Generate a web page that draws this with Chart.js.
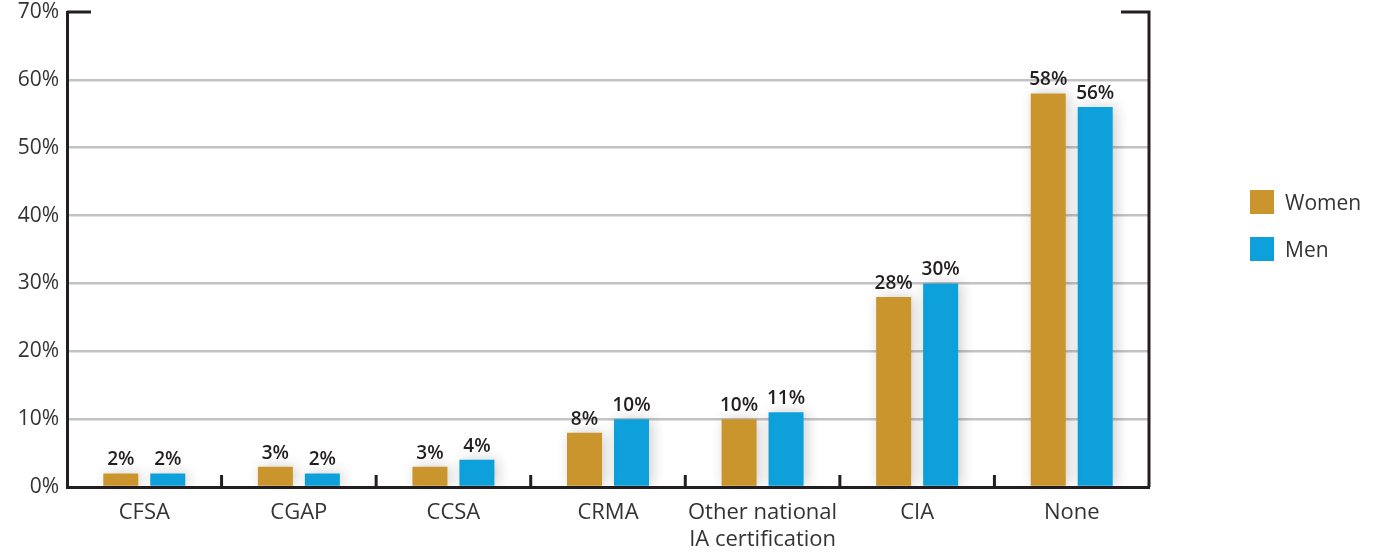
<!DOCTYPE html>
<html>
<head>
  <title>Certifications by gender</title>
  <script src="https://cdn.jsdelivr.net/npm/chart.js"></script>
  <style>
    body { margin: 0; background: #fff; font-family: "Open Sans", sans-serif; }
    #wrap { position: relative; width: 1380px; height: 552px; }
    #legend { position: absolute; left: 1250px; top: 190px; }
    .item { display: flex; align-items: center; height: 24px; margin-bottom: 23px; font-size: 21px; color: #333; }
    .swatch { width: 24px; height: 24px; margin-right: 11px; }
  </style>
</head>
<body>
  <div id="wrap">
    <canvas id="chart" width="1380" height="552"></canvas>
    <div id="legend"></div>
  </div>
  <script>
    const categories = ["CFSA", "CGAP", "CCSA", "CRMA", ["Other national", "IA certification"], "CIA", "None"];
    const women = [2, 3, 3, 8, 10, 28, 58];
    const men = [2, 2, 4, 10, 11, 30, 56];
    const seriesNames = ["Women", "Men"];
    const seriesColors = ["#c9952c", "#0da0da"];

    const ink = "#231f20";

    // legend (html, built from the series arrays)
    const legendEl = document.getElementById("legend");
    seriesNames.forEach((name, i) => {
      const row = document.createElement("div");
      row.className = "item";
      row.innerHTML = `<span class="swatch" style="background:${seriesColors[i]}"></span>${name}`;
      legendEl.appendChild(row);
    });

    // soft shadow behind the bars
    const barShadow = {
      id: "barShadow",
      beforeDatasetsDraw(chart) {
        const ctx = chart.ctx;
        ctx.save();
        ctx.shadowColor = "rgba(0,0,0,0.2)";
        ctx.shadowBlur = 14;
        ctx.shadowOffsetX = 3;
        ctx.shadowOffsetY = 0;
      },
      afterDatasetsDraw(chart) {
        chart.ctx.restore();
      }
    };

    // value labels, right axis, caps and category ticks
    const extras = {
      id: "extras",
      afterDraw(chart) {
        const ctx = chart.ctx;
        const area = chart.chartArea;
        const x = chart.scales.x;

        ctx.save();
        ctx.font = "600 19px 'Open Sans', sans-serif";
        ctx.fillStyle = ink;
        ctx.textAlign = "center";
        ctx.textBaseline = "bottom";
        chart.data.datasets.forEach((ds, di) => {
          chart.getDatasetMeta(di).data.forEach((bar, i) => {
            ctx.fillText(ds.data[i] + "%", bar.x, bar.y - 4);
          });
        });

        ctx.strokeStyle = ink;
        ctx.lineWidth = 3;
        ctx.lineCap = "butt";
        ctx.beginPath();
        // top caps
        ctx.moveTo(area.left, area.top);
        ctx.lineTo(area.left + 24, area.top);
        ctx.moveTo(area.right - 28, area.top);
        ctx.lineTo(area.right, area.top);
        // right axis
        ctx.moveTo(area.right, area.top - 1.5);
        ctx.lineTo(area.right, area.bottom);
        // category separators
        for (let i = 0; i < categories.length - 1; i++) {
          const px = (x.getPixelForValue(i) + x.getPixelForValue(i + 1)) / 2;
          ctx.moveTo(px, area.bottom);
          ctx.lineTo(px, area.bottom - 12);
        }
        ctx.stroke();
        ctx.restore();
      }
    };

    new Chart(document.getElementById("chart"), {
      type: "bar",
      data: {
        labels: categories,
        datasets: seriesNames.map((name, i) => ({
          label: name,
          data: i === 0 ? women : men,
          backgroundColor: seriesColors[i],
          categoryPercentage: 0.608,
          barPercentage: 0.745
        }))
      },
      options: {
        responsive: false,
        animation: false,
        layout: { padding: { top: 12, right: 231, left: 0, bottom: 0 } },
        plugins: {
          legend: { display: false },
          tooltip: { enabled: false }
        },
        scales: {
          x: {
            grid: { display: false, drawTicks: false },
            border: { display: true, color: ink, width: 3 },
            ticks: {
              color: "#333",
              padding: 13,
              maxRotation: 0,
              autoSkip: false,
              font: { family: "'Open Sans', sans-serif", size: 22, lineHeight: 1.2 }
            },
            afterFit(scale) { scale.height = 65; }
          },
          y: {
            min: 0,
            max: 70,
            grid: {
              drawTicks: false,
              lineWidth: 2.5,
              color: ctx => (ctx.tick.value === 0 || ctx.tick.value === 70) ? "rgba(0,0,0,0)" : "#c3c3c5"
            },
            border: { display: true, color: ink, width: 3 },
            ticks: {
              stepSize: 10,
              color: "#333",
              padding: 8,
              font: { family: "'Open Sans', sans-serif", size: 21 },
              callback: v => v + "%"
            },
            afterFit(scale) {
              scale.width = 67;
              scale.paddingTop = 0;
              scale.paddingBottom = 0;
            }
          }
        }
      },
      plugins: [barShadow, extras]
    });
  </script>
</body>
</html>
